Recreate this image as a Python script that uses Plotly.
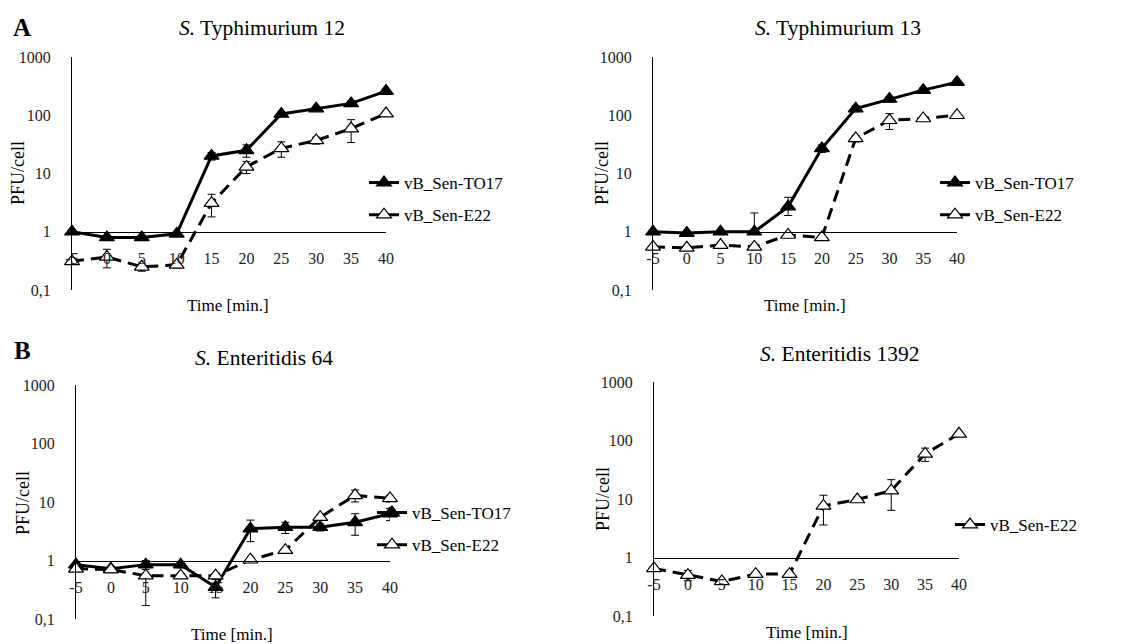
import plotly.graph_objects as go

# the page body has an 8px margin; the figure is laid out in window pixels
OFF = 8
W, H = 1137 - OFF, 644 - OFF

time = [-5, 0, 5, 10, 15, 20, 25, 30, 35, 40]
time_labels = ["-5", "0", "5", "10", "15", "20", "25", "30", "35", "40"]
y_ticks = [0.1, 1, 10, 100, 1000]
y_tick_labels = ["0,1", "1", "10", "100", "1000"]

a1_to17 = [1.0, 0.8, 0.8, 0.92, 20, 25, 105, 130, 160, 260]
a1_to17_err = [0.05, 0.05, 0.05, 0.05, 3, 6, 10, 10, 15, 20]
a1_e22 = [0.31, 0.37, 0.25, 0.27, 3.1, 13, 27, 37, 59, 107]
a1_e22_err = [0.03, 0.13, 0.04, 0.03, 1.3, 3, 8, 5, 25, 10]

a2_to17 = [1.0, 0.95, 1.0, 1.0, 2.7, 27, 130, 190, 270, 370]
a2_to17_err = [0.05, 0.05, 0.05, 1.1, 1.2, 4, 15, 20, 25, 30]
a2_to17_err_minus = [0.05, 0.05, 0.05, 0.05, 0.8, 4, 15, 20, 25, 30]
a2_e22 = [0.55, 0.53, 0.59, 0.55, 0.88, 0.8, 40, 82, 88, 100]
a2_e22_err = [0.05, 0.05, 0.05, 0.05, 0.05, 0.05, 5, 25, 8, 8]

b1_to17 = [0.85, 0.72, 0.85, 0.85, 0.35, 3.5, 3.7, 3.7, 4.5, 6.3]
b1_to17_err = [0.05, 0.05, 0.15, 0.1, 0.12, 1.4, 0.8, 0.5, 1.8, 1.5]
b1_e22 = [0.72, 0.7, 0.55, 0.55, 0.55, 1.03, 1.5, 5.5, 13, 11.5]
b1_e22_err = [0.05, 0.05, 0.38, 0.05, 0.05, 0.05, 0.1, 0.5, 3, 1.5]

b2_e22 = [0.65, 0.5, 0.39, 0.52, 0.52, 7.6, 9.8, 13.9, 59, 130]
b2_e22_err = [0.05, 0.1, 0.04, 0.05, 0.05, 4, 1, 7.5, 15, 10]

panel_titles = ["<i>S.</i> Typhimurium 12", "<i>S.</i> Typhimurium 13",
                "<i>S.</i> Enteritidis 64", "<i>S.</i> Enteritidis 1392"]
name_to17 = "vB_Sen-TO17"
name_e22 = "vB_Sen-E22"

FONT = "Liberation Serif"

def px_x(p):
    return (p - OFF) / W

def px_y(p):
    return 1 - (p - OFF) / H

# panel boxes in window pixels: (left, right, top, bottom)
boxes = [(72, 386, 57, 290), (653, 957, 57, 290), (76, 390, 385, 619), (654, 959, 382, 616)]

fig = go.Figure()

def add_series(idx, name, y, err, filled, legend, err_minus=None):
    xa = "x" if idx == 1 else f"x{idx}"
    ya = "y" if idx == 1 else f"y{idx}"
    ey = dict(type="data", array=err, color="black", thickness=1, width=4)
    if err_minus is not None:
        ey["symmetric"] = False
        ey["arrayminus"] = err_minus
    fig.add_trace(go.Scatter(
        x=time, y=y, name=name, mode="lines+markers",
        xaxis=xa, yaxis=ya, legend=legend, legendgroup=f"{legend}_{name}",
        line=dict(color="black", width=3, dash="solid" if filled else "12px,7px"),
        marker=dict(symbol="triangle-up", size=13,
                    color="black" if filled else "white",
                    line=dict(color="black", width=1.2)),
        error_y=ey,
        cliponaxis=False,
    ))

add_series(1, name_to17, a1_to17, a1_to17_err, True, "legend")
add_series(1, name_e22, a1_e22, a1_e22_err, False, "legend")
add_series(2, name_to17, a2_to17, a2_to17_err, True, "legend2", a2_to17_err_minus)
add_series(2, name_e22, a2_e22, a2_e22_err, False, "legend2")
add_series(3, name_to17, b1_to17, b1_to17_err, True, "legend3")
add_series(3, name_e22, b1_e22, b1_e22_err, False, "legend3")
add_series(4, name_e22, b2_e22, b2_e22_err, False, "legend4")

layout = dict(
    width=W, height=H, margin=dict(l=0, r=0, t=0, b=0, autoexpand=False),
    paper_bgcolor="white", plot_bgcolor="white",
    font=dict(family=FONT, color="black", size=15),
)

for i, (l, r, t, b) in enumerate(boxes, start=1):
    ydom = [px_y(b), px_y(t)]
    xdom = [px_x(l), px_x(r)]
    pos = ydom[0] + 0.25 * (ydom[1] - ydom[0])
    xk = "xaxis" if i == 1 else f"xaxis{i}"
    yk = "yaxis" if i == 1 else f"yaxis{i}"
    xa = "x" if i == 1 else f"x{i}"
    layout[xk] = dict(domain=xdom, anchor="free", position=pos, range=[-5, 40],
                      tickvals=time, ticktext=time_labels, showline=True,
                      linecolor="black", linewidth=1, ticks="", showgrid=False,
                      zeroline=False, ticklabelstandoff=12, automargin=False,
                      tickfont=dict(family=FONT, size=16, color="#222"))
    layout[yk] = dict(domain=ydom, anchor=xa, type="log", range=[-1, 3],
                      tickvals=y_ticks, ticktext=y_tick_labels, showline=True,
                      linecolor="black", linewidth=1, ticks="", showgrid=False,
                      zeroline=False, ticklabelstandoff=17, automargin=False,
                      tickfont=dict(family=FONT, size=16, color="#222"))

legend_style = dict(font=dict(family=FONT, size=17, color="black"),
                    bgcolor="rgba(0,0,0,0)", xanchor="left", yanchor="top",
                    tracegroupgap=7, itemwidth=30)
layout["legend"] = dict(x=px_x(364), y=px_y(165), **legend_style)
layout["legend2"] = dict(x=px_x(935), y=px_y(165), **legend_style)
layout["legend3"] = dict(x=px_x(372), y=px_y(495), **legend_style)
layout["legend4"] = dict(x=px_x(950), y=px_y(507), **legend_style)
layout["showlegend"] = True

annotations = []
def ann(text, x, y, size, angle=0, bold=False):
    annotations.append(dict(text=f"<b>{text}</b>" if bold else text,
                            x=px_x(x), y=px_y(y), xref="paper", yref="paper",
                            xanchor="center", yanchor="middle", showarrow=False,
                            textangle=angle, font=dict(family=FONT, size=size, color="black")))

ann("A", 22, 27, 25, bold=True)
ann("B", 22, 350, 25, bold=True)
title_pos = [(262, 28), (838, 28), (264, 358), (839, 354)]
for t, (x, y) in zip(panel_titles, title_pos):
    ann(t, x, y, 21.5)
for (x, y) in [(228, 305), (805, 305), (232, 634), (807, 632)]:
    ann("Time [min.]", x, y, 17)
for (x, y) in [(18, 173), (602, 173), (23, 503), (603, 499)]:
    ann("PFU/cell", x, y, 18, angle=-90)
layout["annotations"] = annotations

fig.update_layout(**layout)
fig.write_html("out.html")
